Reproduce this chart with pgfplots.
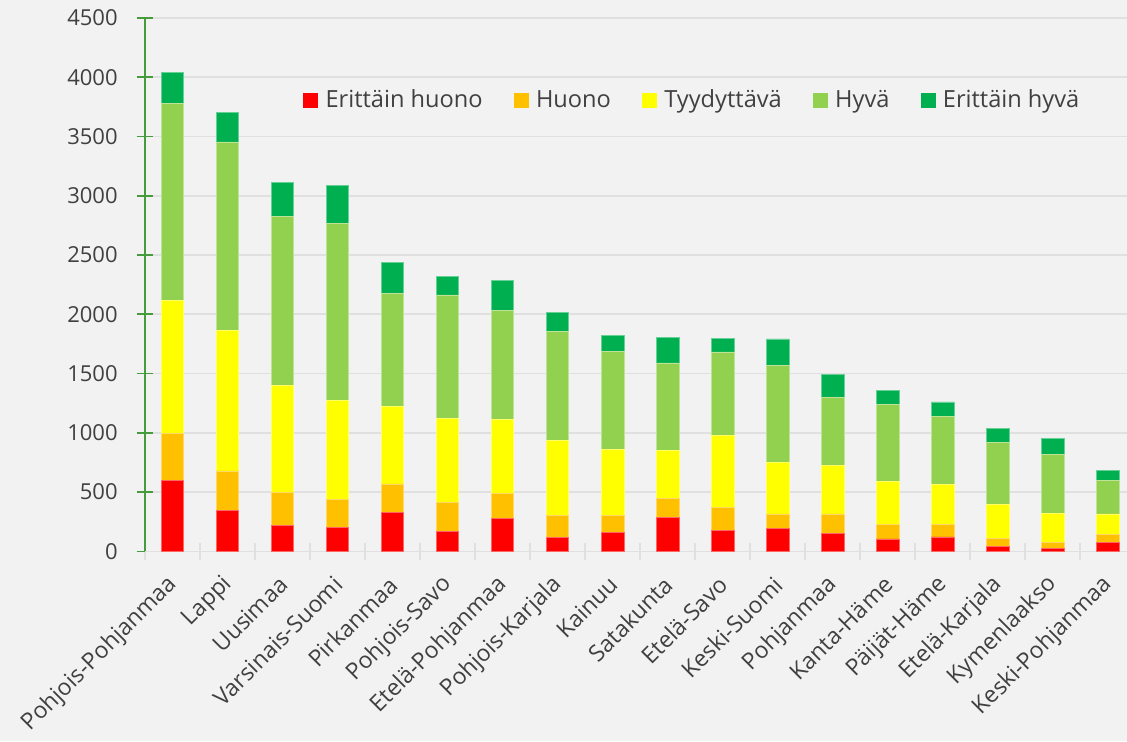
\documentclass[border=0pt]{standalone}
\usepackage{fontspec}
\setmainfont{Open Sans}
\usepackage{pgfplots}
\usepackage{pgfplotstable}
\pgfplotsset{compat=1.18}

\definecolor{bg}{HTML}{F2F2F2}
\definecolor{gridc}{HTML}{E0E0E0}
\definecolor{axgreen}{RGB}{70,155,60}
\definecolor{txt}{HTML}{404040}
\definecolor{cVH}{HTML}{FF0000}
\definecolor{cH}{HTML}{FFC000}
\definecolor{cT}{HTML}{FFFF00}
\definecolor{cG}{HTML}{92D050}
\definecolor{cVG}{HTML}{00B050}

% Condition classes per region
\pgfplotstableread{
idx vh  h   t    g    vg
0   596 396 1123 1662 262
1   343 335 1189 1587 251
2   222 273 903  1429 284
3   199 236 839  1496 319
4   329 239 652  957  259
5   171 242 709  1041 154
6   275 214 627  918  253
7   118 188 633  914  166
8   160 146 555  829  135
9   289 158 405  737  217
10  177 194 610  701  115
11  191 124 436  821  220
12  149 166 407  580  194
13  104 120 363  656  116
14  121 103 341  574  121
15  42  70  287  518  121
16  25  53  243  494  141
17  78  68  169  284  87
}\data

\begin{document}
\begin{tikzpicture}
\fill[bg] (0,0) rectangle (563.5pt,370.5pt);
\useasboundingbox (0,0) rectangle (563.5pt,370.5pt);
\begin{axis}[
  at={(72.5pt,94.85pt)}, anchor=south west,
  width=491pt, height=266.65pt, scale only axis,
  xmin=-0.5, xmax=17.35, ymin=0, ymax=4500,
  ybar stacked, bar width=0.41,
  axis x line*=bottom, axis y line*=left,
  x axis line style={draw=gridc, line width=0.8pt},
  y axis line style={draw=axgreen, line width=0.8pt},
  ymajorgrids, grid style={draw=gridc, line width=0.8pt},
  ytick={0,500,...,4500},
  ytick style={draw=axgreen, line width=0.8pt},
  tick align=center, major tick length=8.3pt, minor tick length=8.3pt,
  xtick={0,...,17},
  xtick style={draw=none},
  minor xtick={-0.5,0.5,...,16.5},
  minor x tick style={draw=gridc, line width=0.8pt},
  xticklabels={Pohjois-Pohjanmaa,Lappi,Uusimaa,Varsinais-Suomi,Pirkanmaa,Pohjois-Savo,Etelä-Pohjanmaa,Pohjois-Karjala,Kainuu,Satakunta,Etelä-Savo,Keski-Suomi,Pohjanmaa,Kanta-Häme,Päijät-Häme,Etelä-Karjala,Kymenlaakso,Keski-Pohjanmaa},
  xticklabel style={xshift=0.5pt, yshift=-10.5pt, rotate=45, anchor=east, inner sep=0pt, font=\fontsize{11.5}{14}\selectfont, text=txt},
  yticklabel style={font=\fontsize{11}{13}\selectfont, text=txt, xshift=-6pt},
  /pgf/number format/assume math mode=true,
  /pgf/number format/set thousands separator={},
  legend columns=5,
  legend image code/.code={\draw[#1, draw=none] (0pt,-3.75pt) rectangle (7.5pt,3.75pt);},
  legend style={draw=none, fill=none, at={(rel axis cs:0.1609,0.8453)}, anchor=west,
    inner sep=0pt, font=\fontsize{11.8}{13}\selectfont, text=txt,
    nodes={inner xsep=3.6pt},
    /tikz/every even column/.append style={column sep=12pt}},
]
\addplot[fill=cVH, draw=cVH!60!white, line width=0.4pt] table[x=idx, y=vh] {\data};
\addlegendentry{Erittäin huono}
\addplot[fill=cH, draw=cH!60!white, line width=0.4pt] table[x=idx, y=h] {\data};
\addlegendentry{Huono}
\addplot[fill=cT, draw=cT!60!white, line width=0.4pt] table[x=idx, y=t] {\data};
\addlegendentry{Tyydyttävä}
\addplot[fill=cG, draw=cG!60!white, line width=0.4pt] table[x=idx, y=g] {\data};
\addlegendentry{Hyvä}
\addplot[fill=cVG, draw=cVG!60!white, line width=0.4pt] table[x=idx, y=vg] {\data};
\addlegendentry{Erittäin hyvä}
\end{axis}
\end{tikzpicture}
\end{document}
